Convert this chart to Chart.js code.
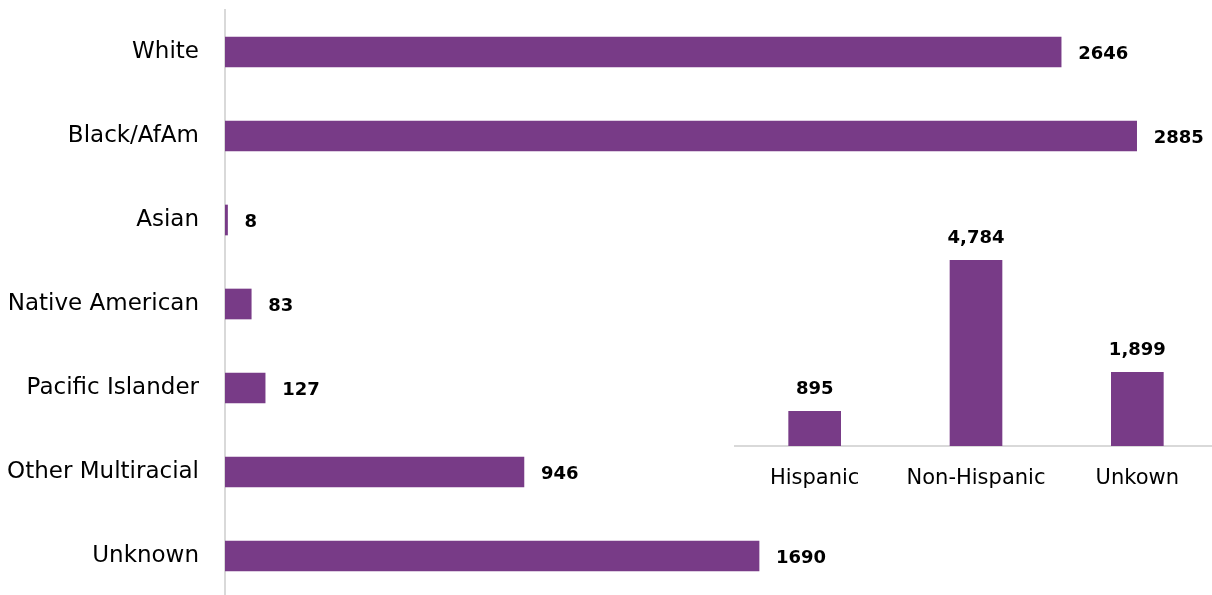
<!DOCTYPE html>
<html>
<head>
<meta charset="utf-8">
<script src="https://cdn.jsdelivr.net/npm/chart.js@4/dist/chart.umd.min.js"></script>
<style>
    html, body { margin: 0; padding: 0; background: #fff; overflow: hidden; }
    #wrap { position: relative; width: 1212px; height: 595px; }
    #raceChart { position: absolute; left: 0; top: 0; }
    #ethChart { position: absolute; left: 734px; top: 200px; }
</style>
</head>
<body>
<div id="wrap">
    <canvas id="raceChart" width="1212" height="598"></canvas>
    <canvas id="ethChart" width="484" height="300"></canvas>
</div>
<script>
const raceLabels = ['White', 'Black/AfAm', 'Asian', 'Native American', 'Pacific Islander', 'Other Multiracial', 'Unknown'];
const raceCounts = [2646, 2885, 8, 83, 127, 946, 1690];

const ethnicityLabels = ['Hispanic', 'Non-Hispanic', 'Unkown'];
const ethnicityCounts = [895, 4784, 1899];

const barColor = '#783b87';
const axisColor = '#d9d9d9';

// draws the value next to / above each bar
const valueLabels = {
    id: 'valueLabels',
    afterDatasetsDraw(chart, args, opts) {
        const ctx = chart.ctx;
        const meta = chart.getDatasetMeta(0);
        const values = chart.data.datasets[0].data;
        ctx.save();
        ctx.font = 'bold 18px "DejaVu Sans"';
        ctx.fillStyle = '#000';
        meta.data.forEach((bar, i) => {
            const text = opts.format ? opts.format(values[i]) : String(values[i]);
            if (opts.horizontal) {
                ctx.textAlign = 'left';
                ctx.textBaseline = 'alphabetic';
                ctx.fillText(text, bar.x + 17, bar.y + 6.5);
            } else {
                ctx.textAlign = 'center';
                ctx.textBaseline = 'alphabetic';
                ctx.fillText(text, bar.x, bar.y - 17);
            }
        });
        ctx.restore();
    }
};

new Chart(document.getElementById('raceChart'), {
    type: 'bar',
    data: {
        labels: raceLabels,
        datasets: [{
            data: raceCounts,
            backgroundColor: barColor,
            barThickness: 30
        }]
    },
    plugins: [valueLabels],
    options: {
        indexAxis: 'y',
        responsive: false,
        animation: false,
        layout: { padding: { top: 10, right: 39, bottom: 0, left: 0 } },
        plugins: {
            legend: { display: false },
            tooltip: { enabled: false },
            valueLabels: { horizontal: true }
        },
        scales: {
            x: {
                display: false,
                min: 0,
                max: 3000
            },
            y: {
                afterFit: (scale) => {
                    scale.width = 225;
                    scale.paddingTop = 0;
                    scale.paddingBottom = 0;
                },
                grid: { display: false, drawTicks: false },
                border: { display: true, color: axisColor, width: 2 },
                ticks: {
                    padding: 26,
                    color: '#000',
                    font: { family: 'DejaVu Sans', size: 23 }
                }
            }
        }
    }
});

new Chart(document.getElementById('ethChart'), {
    type: 'bar',
    data: {
        labels: ethnicityLabels,
        datasets: [{
            data: ethnicityCounts,
            backgroundColor: barColor,
            barThickness: 52
        }]
    },
    plugins: [valueLabels],
    options: {
        responsive: false,
        animation: false,
        layout: { padding: { top: 13, right: 0, bottom: 0, left: 0 } },
        plugins: {
            legend: { display: false },
            tooltip: { enabled: false },
            valueLabels: { horizontal: false, format: (v) => v.toLocaleString('en-US') }
        },
        scales: {
            y: {
                display: false,
                min: 0,
                max: 6000
            },
            x: {
                afterFit: (scale) => { scale.height = 54; },
                grid: { display: false, drawTicks: false },
                border: { display: true, color: axisColor, width: 2 },
                ticks: {
                    padding: 20,
                    color: '#000',
                    font: { family: 'DejaVu Sans', size: 21 }
                }
            }
        }
    }
});
</script>
</body>
</html>
